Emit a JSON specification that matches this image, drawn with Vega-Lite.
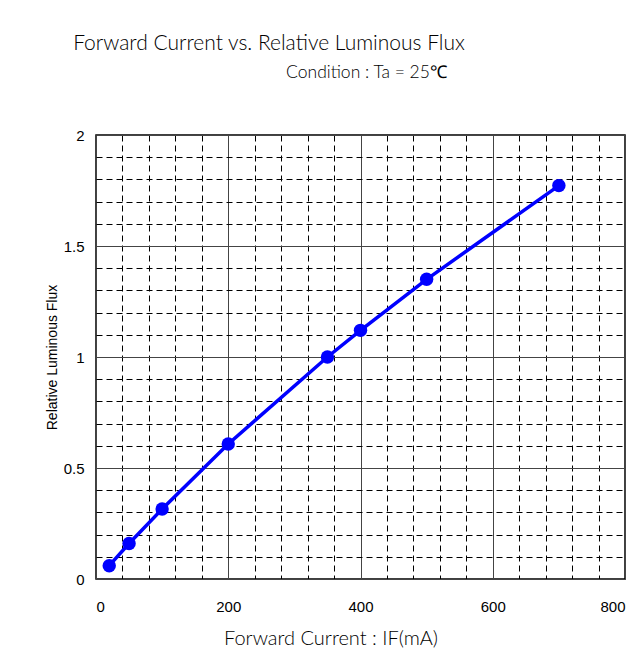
{
  "$schema": "https://vega.github.io/schema/vega-lite/v6.json",
  "width": 529,
  "height": 444,
  "autosize": "none",
  "padding": {"left": 96, "top": 135, "right": 17, "bottom": 87},
  "background": "white",
  "title": {
    "text": "Forward Current vs. Relative Luminous Flux",
    "anchor": "middle",
    "frame": "group",
    "dx": -91.5,
    "offset": 9,
    "font": "Lato",
    "fontSize": 21,
    "fontWeight": 300,
    "color": "black"
  },
  "data": {
    "values": [
      {"current": 20, "flux": 0.06},
      {"current": 50, "flux": 0.16},
      {"current": 100, "flux": 0.315},
      {"current": 200, "flux": 0.608},
      {"current": 350, "flux": 1.0},
      {"current": 400, "flux": 1.12},
      {"current": 500, "flux": 1.35},
      {"current": 700, "flux": 1.772}
    ]
  },
  "encoding": {
    "y": {
      "field": "flux",
      "type": "quantitative",
      "scale": {"domain": [0, 2], "nice": false},
      "axis": {
        "title": "Relative Luminous Flux",
        "titleFont": "Liberation Sans",
        "titleFontSize": 14,
        "titleFontWeight": "normal",
        "titleColor": "black",
        "titlePadding": 4,
        "values": [0,0.1,0.2,0.3,0.4,0.5,0.6,0.7,0.8,0.9,1,1.1,1.2,1.3,1.4,1.5,1.6,1.7,1.8,1.9,2],
        "labelExpr": "round(datum.value*10) % 5 === 0 ? format(datum.value, '~g') : ''",
        "labelFont": "Liberation Sans",
        "labelFontSize": 15,
        "labelColor": "black",
        "labelPadding": 12,
        "ticks": false,
        "domain": false,
        "grid": true,
        "gridColor": {"condition": {"test": "round(datum.value*10) % 5 === 0", "value": "#444444"}, "value": "black"},
        "gridDash": {"condition": {"test": "round(datum.value*10) % 5 === 0", "value": []}, "value": [6, 4]},
        "gridWidth": 1,
        "gridOpacity": 1
      }
    }
  },
  "resolve": {"axis": {"x": "independent"}},
  "layer": [
    {
      "mark": {"type": "line", "color": "#0000FF", "strokeWidth": 3.5},
      "encoding": {
        "x": {
          "field": "current",
          "type": "quantitative",
          "scale": {"domain": [0, 800], "nice": false, "zero": true},
          "axis": {
            "title": "Forward Current : IF(mA)",
            "titleFont": "Lato",
            "titleFontSize": 20,
            "titleFontWeight": 300,
            "titleColor": "black",
            "titleX": 234.5,
            "titleY": 65,
            "titleAlign": "center",
            "titleBaseline": "alphabetic",
            "values": [0,40,80,120,160,200,240,280,320,360,400,440,480,520,560,600,640,680,720,760,800],
            "labelExpr": "datum.value % 200 === 0 ? datum.label : ''",
            "labelFont": "Liberation Sans",
            "labelFontSize": 15,
            "labelColor": "black",
            "labelPadding": 20,
            "ticks": false,
            "domain": false,
            "grid": true,
            "gridColor": {"condition": {"test": "datum.value % 200 === 0", "value": "#444444"}, "value": "black"},
            "gridDash": {"condition": {"test": "datum.value % 200 === 0", "value": []}, "value": [6, 4]},
            "gridWidth": 1,
            "gridOpacity": 1
          }
        }
      }
    },
    {
      "mark": {"type": "circle", "color": "#0000FF", "size": 180, "opacity": 1},
      "encoding": {
        "x": {
          "field": "current",
          "type": "quantitative",
          "axis": {
            "orient": "top",
            "title": "Condition : Ta = 25℃",
            "titleFont": "Lato",
            "titleFontSize": 17.5,
            "titleFontWeight": 300,
            "titleColor": "black",
            "titleX": 270,
            "titleY": -58,
            "titleAlign": "center",
            "titleBaseline": "alphabetic",
            "labels": false,
            "ticks": false,
            "domain": false,
            "grid": false
          }
        }
      }
    }
  ],
  "config": {
    "view": {"stroke": "black", "strokeWidth": 1.5}
  }
}
